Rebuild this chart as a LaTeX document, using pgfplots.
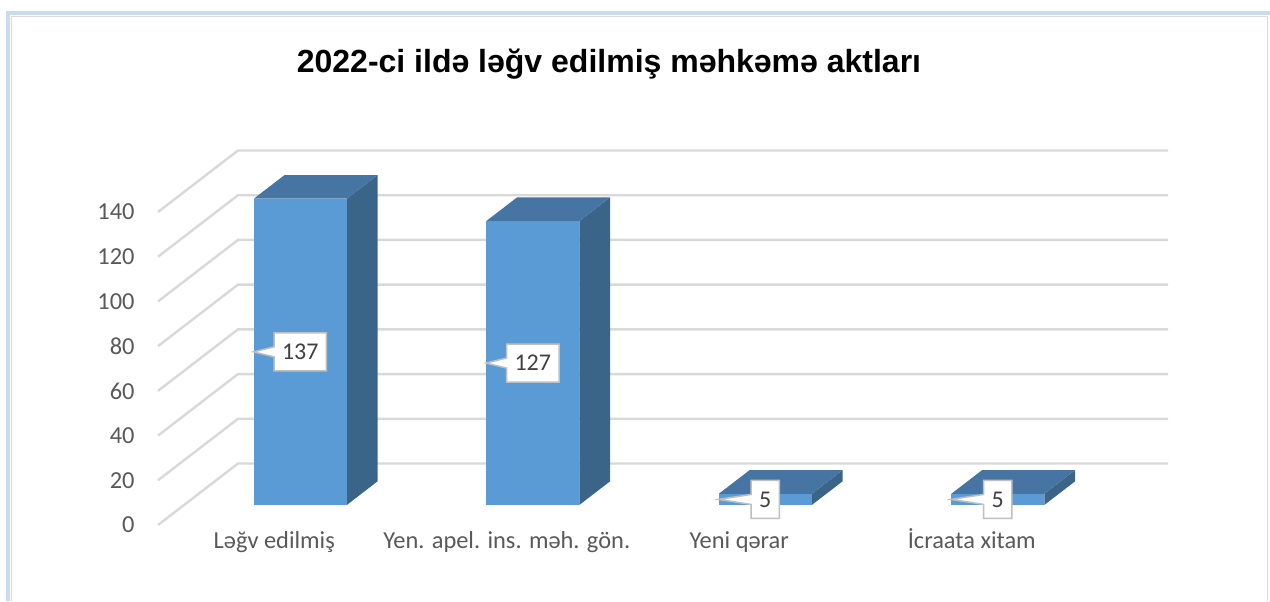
\documentclass[border=0pt]{standalone}
\usepackage{pgfplots}
\pgfplotsset{compat=1.18}
\usepackage{fontspec}
\setmainfont{Carlito}
\newfontfamily\titlefont{Liberation Sans}
\usetikzlibrary{shapes.callouts}
\definecolor{barfront}{HTML}{5B9BD5}
\definecolor{bartop}{HTML}{4675A3}
\definecolor{barside}{HTML}{3B6489}
\definecolor{gridc}{HTML}{D9D9D9}
\definecolor{labc}{HTML}{595959}
\definecolor{valc}{HTML}{404040}
\definecolor{boxc}{HTML}{BFBFBF}
\definecolor{framec}{HTML}{C9DDF2}
% one 3D bar: #1 left x, #2 right x, #3 value
\newcommand\cuboid[3]{%
  \addplot3[fill=barside, draw=none] coordinates {(#2,0.325,0) (#2,0.71,0) (#2,0.71,#3) (#2,0.325,#3)} -- cycle;
  \addplot3[fill=bartop, draw=none] coordinates {(#1,0.325,#3) (#2,0.325,#3) (#2,0.71,#3) (#1,0.71,#3)} -- cycle;
  \addplot3[fill=barfront, draw=none] coordinates {(#1,0.325,0) (#2,0.325,0) (#2,0.325,#3) (#1,0.325,#3)} -- cycle;
}
\tikzset{
  callbox/.style={rectangle callout, anchor=center,
    callout relative pointer={(-#1,0pt)}, callout pointer width=5pt,
    fill=white, draw=boxc, line width=0.75pt, text=valc,
    inner xsep=4pt, inner ysep=0pt, minimum height=19pt,
    font=\fontsize{12}{14}\selectfont},
}
\begin{document}
\begin{tikzpicture}
\useasboundingbox (0,0) rectangle (635pt,300.5pt);
\fill[white] (0,0) rectangle (635pt,300.5pt);
\draw[framec, line width=2pt] (4pt,0) -- (4pt,293.75pt) -- (635pt,293.75pt);
\draw[gridc, line width=0.6pt] (5.6pt,0) -- (5.6pt,292.4pt) -- (633.8pt,292.4pt) -- (633.8pt,0);
\node[font=\titlefont\bfseries\fontsize{16}{19}\selectfont] at (304.5pt,268.5pt) {2022-ci ildə ləğv edilmiş məhkəmə aktları};

\begin{axis}[
  anchor=origin, at={(137.125pt,38pt)},
  x={(116.25pt,0pt)}, y={(40pt,30.75pt)}, z={(0pt,1.11786pt)},
  xmin=-0.5, xmax=3.5, ymin=0, ymax=1, zmin=0, zmax=140,
  hide axis, clip=false,
]
\pgfplotsinvokeforeach{0,20,...,140}{
  \addplot3[gridc, line width=1.2pt, no marks] coordinates {(-0.5,0,#1) (-0.5,1,#1) (3.5,1,#1)};
}
\cuboid{-0.2}{0.2}{137}
\cuboid{0.8}{1.2}{127}
\cuboid{1.8}{2.2}{5}
\cuboid{2.8}{3.2}{5}
\addplot3[draw=none, no marks, nodes near coords, point meta=explicit symbolic,
  nodes near coords align=center,
  every node near coord/.style={callbox=10.2pt}]
  coordinates {(0,0.325,68.5) [137] (1,0.325,63.5) [127]};
\addplot3[draw=none, no marks, nodes near coords, point meta=explicit symbolic,
  nodes near coords align=center,
  every node near coord/.style={callbox=16.2pt}]
  coordinates {(2,0.325,2.5) [5] (3,0.325,2.5) [5]};
\end{axis}

\begin{axis}[
  anchor=origin, at={(137.125pt,38pt)},
  x={(116.25pt,0pt)}, y={(0pt,1.11786pt)},
  xmin=-0.5, xmax=3.5, ymin=0, ymax=140,
  axis line style={draw=none}, major tick length=0pt,
  xtick={0,1,2,3},
  xticklabels={Ləğv edilmiş, Yen. apel. ins. məh. gön., Yeni qərar, İcraata xitam},
  ytick={0,20,...,140},
  tick label style={font=\fontsize{12.2}{14}\selectfont, text=labc},
  yticklabel style={anchor=east, inner sep=0pt, xshift=-11.5pt},
  xticklabel style={anchor=base, inner sep=0pt, yshift=-11.5pt},
  /pgf/number format/assume math mode=true,
]
\end{axis}
\end{tikzpicture}
\end{document}
